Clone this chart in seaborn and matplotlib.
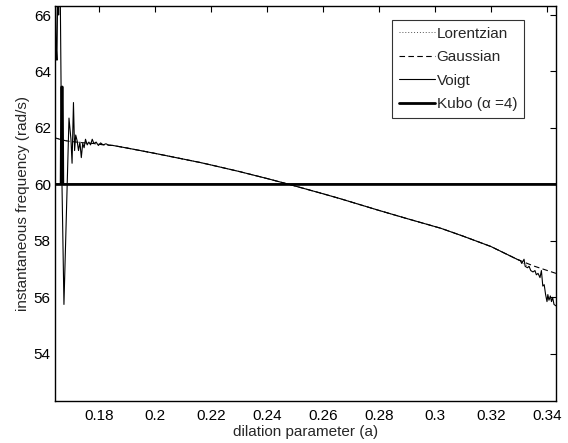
import matplotlib
matplotlib.use("Agg")
import matplotlib.pyplot as plt
import seaborn as sns
import numpy as np
import pandas as pd

# ---- data ----
# smooth common trend (shared by all three line-shape models)
trend_a = [0.185, 0.190, 0.200, 0.209, 0.216, 0.220, 0.230, 0.240, 0.248, 0.260,
           0.266, 0.280, 0.290, 0.302, 0.310, 0.320, 0.3293]
trend_f = [61.38, 61.29, 61.10, 60.92, 60.78, 60.69, 60.46, 60.21, 60.00, 59.67,
           59.50, 59.08, 58.79, 58.45, 58.17, 57.80, 57.35]

# Voigt: noisy start and noisy end
voigt_start_a = [0.1644, 0.1647, 0.1650, 0.1653, 0.1656, 0.1659, 0.1662, 0.1666, 0.1668,
                 0.1675, 0.1693, 0.1700, 0.1704, 0.1709, 0.1713, 0.1717, 0.1722, 0.1727,
                 0.1732, 0.1737, 0.1742, 0.1747, 0.1752, 0.1758, 0.1764, 0.1770, 0.1776,
                 0.1782, 0.1790, 0.1798, 0.1806, 0.1815, 0.1825, 0.1835]
voigt_start_f = [67.50, 65.00, 64.40, 67.20, 66.00, 67.40, 66.60, 62.00, 60.00,
                 55.75, 62.35, 61.60, 60.75, 62.90, 61.20, 61.75, 61.55, 61.20,
                 61.50, 60.95, 61.45, 61.30, 61.60, 61.40, 61.50, 61.40, 61.60,
                 61.45, 61.50, 61.38, 61.47, 61.40, 61.44, 61.39]
voigt_end_a = [0.3305, 0.3310, 0.3318, 0.3322, 0.3330, 0.3336, 0.3342, 0.3350, 0.3357,
               0.3362, 0.3368, 0.3375, 0.3380, 0.3385, 0.3390, 0.3395, 0.3400, 0.3403,
               0.3407, 0.3412, 0.3416, 0.3420, 0.3425, 0.3432]
voigt_end_f = [57.30, 57.20, 57.35, 57.10, 57.05, 57.10, 56.95, 56.90, 56.95,
               56.80, 56.85, 56.70, 56.95, 56.40, 56.45, 56.10, 55.85, 56.10,
               55.90, 56.05, 55.85, 56.00, 55.75, 55.70]

# Gaussian: flat start, smooth end
gauss_start_a = [0.1643, 0.1660, 0.1680, 0.1700, 0.1720, 0.1750, 0.1780, 0.1810]
gauss_start_f = [61.65, 61.60, 61.55, 61.52, 61.50, 61.47, 61.45, 61.41]
gauss_end_a = [0.3350, 0.3432]
gauss_end_f = [57.12, 56.85]

# Lorentzian: follows the common trend
lor_end_a = [0.3340]
lor_end_f = [57.05]

# Kubo (alpha = 4)
kubo_a = [0.1643, 0.1665, 0.1667, 0.1669, 0.1671, 0.2000, 0.2500, 0.3000, 0.3432]
kubo_f = [60.00, 60.00, 63.45, 63.45, 60.00, 60.00, 60.00, 60.00, 60.00]

series = {
    "Lorentzian": (gauss_start_a + trend_a + lor_end_a, gauss_start_f + trend_f + lor_end_f),
    "Gaussian": (gauss_start_a + trend_a + gauss_end_a, gauss_start_f + trend_f + gauss_end_f),
    "Voigt": (voigt_start_a + trend_a + voigt_end_a, voigt_start_f + trend_f + voigt_end_f),
    "Kubo (\u03b1 =4)": (kubo_a, kubo_f),
}
styles = {
    "Lorentzian": dict(linestyle=(0, (1, 2)), linewidth=0.7, color="#555555"),
    "Gaussian": dict(linestyle=(0, (5, 3)), linewidth=0.8, color="black"),
    "Voigt": dict(linestyle="-", linewidth=0.8, color="black"),
    "Kubo (\u03b1 =4)": dict(linestyle="-", linewidth=2.0, color="black"),
}

sns.set_theme(style="white")
plt.rcParams['font.family'] = ['Liberation Sans', 'DejaVu Sans']

fig = plt.figure(figsize=(5.68, 4.43), dpi=100)
ax = fig.add_axes([0.0968, 0.0948, 0.8820, 0.8917])

for name, (xa, ya) in series.items():
    df = pd.DataFrame({"a": xa, "f": ya})
    sns.lineplot(data=df, x="a", y="f", ax=ax, estimator=None, sort=True,
                 label=name, **styles[name])

ax.set_xlim(0.1643, 0.3432)
ax.set_ylim(52.33, 66.32)
ax.set_xticks([0.18, 0.20, 0.22, 0.24, 0.26, 0.28, 0.30, 0.32, 0.34])
ax.set_xticklabels(["0.18", "0.2", "0.22", "0.24", "0.26", "0.28", "0.3", "0.32", "0.34"])
ax.set_yticks([54, 56, 58, 60, 62, 64, 66])
ax.tick_params(direction="in", length=4, width=0.8, top=True, right=True,
               labelsize=11, pad=3, colors="black")
ax.tick_params(axis="x", pad=6)
for s in ax.spines.values():
    s.set_color("black")
    s.set_linewidth(1.0)
ax.set_xlabel("dilation parameter (a)", fontsize=11, labelpad=1)
ax.set_ylabel("instantaneous frequency (rad/s)", fontsize=11, labelpad=3)

leg = ax.legend(loc="upper right", bbox_to_anchor=(0.936, 0.965), fontsize=11,
                frameon=True, fancybox=False, handlelength=2.35, handletextpad=0.1,
                borderpad=0.45, labelspacing=0.62, borderaxespad=0.0)
leg.get_frame().set_edgecolor("black")
leg.get_frame().set_linewidth(0.8)

fig.savefig("out.png", dpi=100)
